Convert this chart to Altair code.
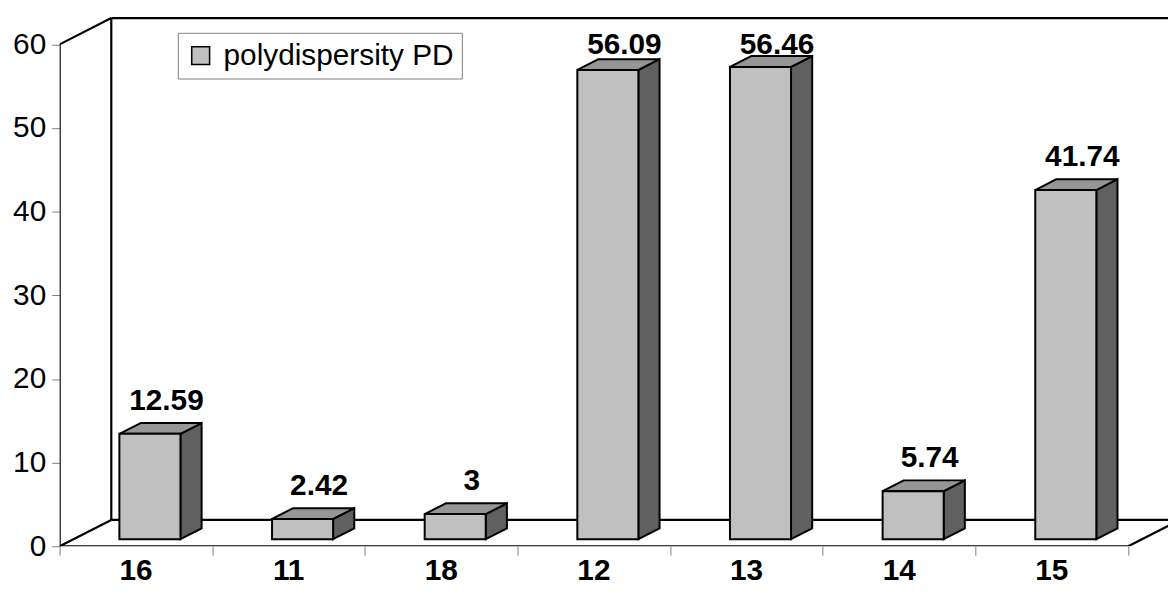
import altair as alt
import pandas as pd

# ---- data ----
categories = ["16", "11", "18", "12", "13", "14", "15"]
values = [12.59, 2.42, 3, 56.09, 56.46, 5.74, 41.74]
value_labels = ["12.59", "2.42", "3", "56.09", "56.46", "5.74", "41.74"]
series_name = "polydispersity PD"
y_ticks = [0, 10, 20, 30, 40, 50, 60]

# ---- layout / 3D style parameters ----
W, H = 1116, 534
PX_PER_CAT = 153.7
XMAX = W / PX_PER_CAT
YMAX = 63.4
PX_PER_Y = H / YMAX
DX = 52 / PX_PER_CAT          # full floor depth, in category units
DY = 26.5 / PX_PER_Y          # full floor depth, in value units
F1, F2 = 0.27, 0.68           # bar front / back depth fractions
BL, BR = 0.30, 0.70           # bar left / right within a category
YTOP = y_ticks[-1]
NCAT = len(categories)
FONT = "Liberation Sans"

front_rows, top_rows, side_rows, lab_rows, cat_rows = [], [], [], [], []
for i, (c, v, lab) in enumerate(zip(categories, values, value_labels)):
    xl1, xr1 = i + BL + F1 * DX, i + BR + F1 * DX
    xl2, xr2 = i + BL + F2 * DX, i + BR + F2 * DX
    yb1, yb2 = F1 * DY, F2 * DY
    front_rows.append(dict(x=xl1, x2=xr1, y=yb1, y2=v + yb1, series=series_name))
    top_rows.append(dict(bar=i, y=v + yb1, x=xl1, x2=xr1))
    top_rows.append(dict(bar=i, y=v + yb2, x=xl2, x2=xr2))
    side_rows.append(dict(bar=i, x=xr1, y=yb1, y2=v + yb1))
    side_rows.append(dict(bar=i, x=xr2, y=yb2, y2=v + yb2))
    ly = min(v + yb2 + 13 / PX_PER_Y, YMAX - 38 / PX_PER_Y)
    lab_rows.append(dict(x=i + 0.5 + (F1 + F2) / 2 * DX + 6 / PX_PER_CAT, y=ly, t=lab))
    cat_rows.append(dict(x=i + 0.5, t=c))

front = pd.DataFrame(front_rows)
top = pd.DataFrame(top_rows)
side = pd.DataFrame(side_rows)
labs = pd.DataFrame(lab_rows)
cats = pd.DataFrame(cat_rows)

frame = pd.DataFrame([
    dict(x=0, x2=0, y=0, y2=YTOP),                       # front-left axis line
    dict(x=0, x2=DX, y=YTOP, y2=YTOP + DY),              # left wall top edge
    dict(x=0, x2=DX, y=0, y2=DY),                        # left floor edge
    dict(x=DX, x2=DX, y=DY, y2=YTOP + DY),               # back wall left edge
    dict(x=DX, x2=NCAT + DX, y=YTOP + DY, y2=YTOP + DY), # back wall top edge
    dict(x=DX, x2=NCAT + DX, y=DY, y2=DY),               # back floor edge
    dict(x=0, x2=NCAT, y=0, y2=0),                       # front floor edge
    dict(x=NCAT, x2=NCAT + DX, y=0, y2=DY),              # right floor edge
])

xs = alt.Scale(domain=[0, XMAX], nice=False, zero=False)
ys = alt.Scale(domain=[0, YMAX], nice=False, zero=False)

x_axis = alt.Axis(values=list(range(NCAT + 1)), labels=False, domain=False,
                  grid=False, ticks=True, tickColor="#808080", tickSize=9,
                  tickWidth=1, title=None)
y_axis = alt.Axis(values=y_ticks, domain=False, grid=False, tickColor="#808080",
                  tickSize=8, tickWidth=1, labelFont=FONT, labelFontSize=30,
                  labelColor="black", labelPadding=6, title=None)


def X(f="x:Q"):
    return alt.X(f, scale=xs, axis=x_axis)


def Y(f="y:Q"):
    return alt.Y(f, scale=ys, axis=y_axis)


lines = alt.Chart(frame).mark_rule(color="black", strokeWidth=2.2, clip=True).encode(
    x=X(), x2="x2:Q", y=Y(), y2="y2:Q",
)

side_l = alt.Chart(side).mark_area(orient="vertical", fill="#606060", stroke="black",
                                   strokeWidth=2, strokeJoin="miter", opacity=1).encode(
    x=X(), y=Y(), y2="y2:Q", detail="bar:N",
)

top_l = alt.Chart(top).mark_area(orient="horizontal", fill="#969696", stroke="black",
                                 strokeWidth=2, strokeJoin="miter", opacity=1).encode(
    y=Y(), x=X(), x2="x2:Q", detail="bar:N",
)

front_l = alt.Chart(front).mark_rect(stroke="black", strokeWidth=2, opacity=1).encode(
    x=X(), x2="x2:Q", y=Y(), y2="y2:Q",
    fill=alt.Fill("series:N",
                  scale=alt.Scale(domain=[series_name], range=["#c0c0c0"]),
                  legend=alt.Legend(title=None, orient="none", legendX=119, legendY=17,
                                    symbolType="square", symbolSize=324,
                                    symbolStrokeColor="black", symbolStrokeWidth=1.5,
                                    labelFont=FONT, labelFontSize=30, labelColor="black",
                                    labelLimit=500, labelOffset=8, padding=8,
                                    strokeColor="#808080", fillColor="white")),
)

val_l = alt.Chart(labs).mark_text(font=FONT, fontSize=30, fontWeight="bold", color="black",
                                  baseline="alphabetic", align="center").encode(
    x=X(), y=Y(), text="t:N",
)

cat_l = alt.Chart(cats).mark_text(font=FONT, fontSize=30, fontWeight="bold", color="black",
                                  baseline="alphabetic", align="center").encode(
    x=X(), y=alt.value(H + 34), text="t:N",
)

chart = alt.layer(lines, side_l, top_l, front_l, val_l, cat_l).properties(
    width=W, height=H,
    autosize=alt.AutoSizeParams(type="none"),
    padding={"left": 52, "top": 6, "right": 0, "bottom": 38},
    background="white",
).configure_view(stroke=None)

chart.save("out.html", embed_options={"renderer": "svg", "actions": False})
